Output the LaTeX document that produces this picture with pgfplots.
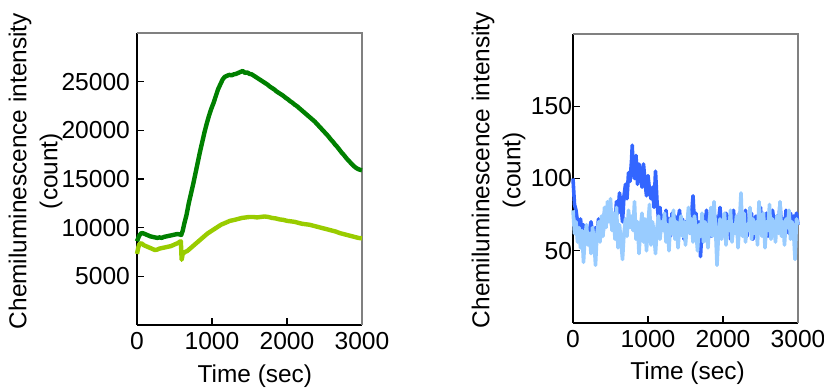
\documentclass[border=0pt]{standalone}
\usepackage{pgfplots}
\pgfplotsset{compat=1.18}
\usepackage{fontspec}
\setmainfont{Liberation Sans}
\definecolor{dkgreen}{RGB}{0,128,0}
\definecolor{ltgreen}{RGB}{153,204,0}
\definecolor{myblue}{RGB}{51,102,255}
\definecolor{ltblue}{RGB}{153,204,255}
\pgfplotsset{
  common/.style={
    scale only axis, anchor=south west,
    xmin=0, xmax=3000,
    axis lines=left, axis line style={-},
    tick align=inside, major tick length=3.5pt,
    tick style={black, line width=0.6pt},
    xtick={0,1000,2000,3000},
    scaled ticks=false,
    /pgf/number format/assume math mode=true,
    /pgf/number format/set thousands separator={},
    tick label style={font=\fontsize{12.3}{14.4}\selectfont},
    label style={font=\fontsize{12.2}{15.5}\selectfont},
    ylabel={Chemiluminescence intensity\\(count)},
    xlabel={Time (sec)},
    clip=false,
  }
}
\begin{document}
\begin{tikzpicture}
\path[use as bounding box] (0,0) rectangle (412pt,194.5pt);
\begin{axis}[common, at={(68.5pt,32pt)}, width=112.5pt, height=146pt,
  ymin=0, ymax=30000, ytick={5000,10000,15000,20000,25000},
  axis line style={-, line width=0.6pt},
  ylabel style={at={(rel axis cs:-0.451,0.527)}, anchor=center, align=center, rotate=0},
  xlabel style={at={(rel axis cs:0.524,-0.197)}, anchor=base},
]
\draw[gray, line width=0.6pt] (rel axis cs:0,1) -- (rel axis cs:1,1) -- (rel axis cs:1,0);
\addplot[ltgreen, line width=2.2pt, line join=round] coordinates {
(0,7300)(15,7900)(30,8300)(60,8400)(90,8200)(120,8100)(150,8000)(180,7900)(210,7800)(240,7700)
(270,7750)(300,7850)(330,7900)(360,7950)(390,8000)(420,8050)(450,8100)(480,8200)(510,8300)(540,8400)
(570,8550)(585,8600)(595,6700)(610,7300)(640,7500)(670,7600)(700,7800)(730,8000)(760,8200)(790,8400)
(820,8600)(850,8800)(880,9000)(910,9200)(940,9400)(970,9550)(1000,9700)(1030,9850)(1060,10000)(1090,10150)
(1120,10300)(1150,10400)(1180,10500)(1210,10600)(1240,10700)(1270,10750)(1300,10800)(1350,10900)(1400,11000)(1450,11050)
(1500,11100)(1550,11100)(1600,11050)(1650,11100)(1700,11150)(1750,11100)(1800,11000)(1850,10950)(1900,10850)(1950,10800)
(2000,10700)(2050,10650)(2100,10600)(2150,10500)(2200,10400)(2250,10350)(2300,10300)(2350,10200)(2400,10100)(2450,10000)
(2500,9900)(2550,9800)(2600,9700)(2650,9600)(2700,9450)(2750,9350)(2800,9250)(2850,9150)(2900,9050)(2950,8950)(3000,8900)
};
\addplot[dkgreen, line width=2.2pt, line join=round] coordinates {
(0,8600)(15,8900)(30,9200)(60,9450)(90,9400)(120,9300)(150,9200)(180,9100)(210,9050)(240,9000)
(270,8950)(300,9000)(330,8950)(360,9050)(390,9100)(420,9150)(450,9200)(480,9250)(510,9300)(540,9350)
(570,9300)(590,9250)(610,9700)(630,10400)(660,11300)(690,12500)(720,13500)(750,14500)(780,15600)(810,16700)
(840,17800)(870,18800)(900,19800)(930,20700)(960,21500)(990,22200)(1020,22800)(1050,23500)(1080,24200)(1110,24700)
(1140,25200)(1170,25500)(1200,25600)(1230,25700)(1260,25650)(1290,25750)(1320,25800)(1350,25900)(1380,26000)(1410,26100)
(1440,25900)(1470,25950)(1500,25800)(1530,25750)(1560,25600)(1590,25450)(1620,25300)(1650,25150)(1680,25000)(1710,24850)
(1740,24700)(1770,24500)(1800,24350)(1830,24200)(1860,24000)(1890,23850)(1920,23700)(1950,23550)(1980,23350)(2010,23200)
(2040,23000)(2070,22850)(2100,22650)(2130,22500)(2160,22300)(2190,22100)(2220,21900)(2250,21700)(2280,21500)(2310,21300)
(2340,21100)(2370,20900)(2400,20650)(2430,20400)(2460,20150)(2490,19900)(2520,19650)(2550,19400)(2580,19100)(2610,18850)
(2640,18550)(2670,18300)(2700,18000)(2730,17700)(2760,17450)(2790,17150)(2820,16900)(2850,16650)(2880,16400)(2910,16200)
(2940,16050)(2970,15950)(3000,15900)
};
\end{axis}
\begin{axis}[common, at={(286.5pt,33pt)}, width=112.5pt, height=144.5pt,
  ymin=0, ymax=200, ytick={50,100,150},
  axis line style={-, line width=1pt},
  yticklabel style={inner xsep=0.3pt},
  ylabel style={at={(rel axis cs:-0.331,0.529)}, anchor=center, align=center, rotate=0},
  xlabel style={at={(rel axis cs:0.509,-0.194)}, anchor=base},
]
\draw[gray, line width=0.6pt] (rel axis cs:0,1) -- (rel axis cs:1,1) -- (rel axis cs:1,0);
\addplot[myblue, line width=1.8pt, line join=round] coordinates {
(0,100)(20,82)(40,78)(60,70)(80,66)(100,72)(120,62)(140,68)(160,60)(180,66)
(200,58)(220,64)(240,70)(260,62)(280,55)(300,66)(320,60)(340,72)(360,64)(380,70)
(400,62)(420,76)(440,68)(460,80)(480,72)(500,78)(520,66)(540,74)(560,70)(580,84)
(600,76)(620,90)(640,82)(660,70)(680,88)(700,96)(720,86)(740,104)(760,98)(780,112)
(790,123)(800,108)(820,100)(840,116)(860,96)(880,110)(900,104)(920,94)(940,110)(960,98)
(980,88)(1000,102)(1020,92)(1040,86)(1060,94)(1080,80)(1100,105)(1120,84)(1140,72)(1160,80)
(1180,66)(1200,74)(1220,68)(1240,78)(1260,64)(1280,72)(1300,60)(1320,76)(1340,68)(1360,74)
(1380,62)(1400,70)(1420,78)(1440,64)(1460,72)(1480,58)(1500,70)(1520,66)(1540,76)(1560,62)
(1580,74)(1600,88)(1620,68)(1640,76)(1660,58)(1680,70)(1700,46)(1720,66)(1740,74)(1760,64)
(1780,78)(1800,68)(1820,72)(1840,60)(1860,76)(1880,66)(1900,74)(1920,62)(1940,70)(1960,80)
(1980,66)(2000,72)(2020,60)(2040,76)(2060,68)(2080,74)(2100,58)(2120,70)(2140,78)(2160,64)
(2180,72)(2200,66)(2220,76)(2240,62)(2260,74)(2280,68)(2300,78)(2320,60)(2340,72)(2360,66)
(2380,76)(2400,58)(2420,70)(2440,74)(2460,64)(2480,72)(2500,80)(2520,62)(2540,74)(2560,68)
(2580,76)(2600,60)(2620,72)(2640,66)(2660,78)(2680,70)(2700,62)(2720,74)(2740,68)(2760,82)
(2780,66)(2800,72)(2820,64)(2840,78)(2860,70)(2880,62)(2900,76)(2920,68)(2940,74)(2960,70)
(2980,76)(3000,68)
};
\addplot[ltblue, line width=1.8pt, line join=round] coordinates {
(0,78)(20,62)(40,70)(60,56)(80,66)(100,52)(120,64)(140,42)(160,60)(180,68)
(200,54)(220,62)(240,48)(260,66)(280,58)(300,40)(320,62)(340,70)(360,56)(380,74)
(400,60)(420,80)(440,66)(460,84)(480,70)(500,86)(520,64)(540,76)(560,58)(580,80)
(600,52)(620,68)(640,56)(660,44)(680,62)(700,72)(720,60)(740,78)(760,66)(780,74)
(800,64)(820,84)(840,58)(860,70)(880,48)(900,66)(920,76)(940,56)(960,72)(980,50)
(1000,68)(1020,82)(1040,54)(1060,70)(1080,62)(1100,48)(1120,66)(1140,74)(1160,58)(1180,70)
(1200,64)(1220,76)(1240,56)(1260,68)(1280,50)(1300,72)(1320,62)(1340,78)(1360,58)(1380,70)
(1400,52)(1420,66)(1440,74)(1460,60)(1480,70)(1500,54)(1520,68)(1540,80)(1560,62)(1580,72)
(1600,56)(1620,74)(1640,64)(1660,50)(1680,68)(1700,60)(1720,76)(1740,56)(1760,70)(1780,64)
(1800,52)(1820,72)(1840,80)(1860,60)(1880,84)(1900,66)(1920,40)(1940,62)(1960,72)(1980,58)
(2000,68)(2020,76)(2040,54)(2060,70)(2080,64)(2100,78)(2120,56)(2140,68)(2160,62)(2180,74)
(2200,52)(2220,70)(2240,90)(2260,60)(2280,76)(2300,56)(2320,68)(2340,64)(2360,80)(2380,58)
(2400,72)(2420,62)(2440,70)(2460,54)(2480,84)(2500,66)(2520,60)(2540,76)(2560,52)(2580,70)
(2600,64)(2620,82)(2640,58)(2660,72)(2680,66)(2700,56)(2720,74)(2740,62)(2760,84)(2780,60)
(2800,70)(2820,54)(2840,72)(2860,66)(2880,78)(2900,58)(2920,70)(2940,64)(2960,44)(2980,72)
(3000,68)
};
\end{axis}
\end{tikzpicture}
\end{document}
